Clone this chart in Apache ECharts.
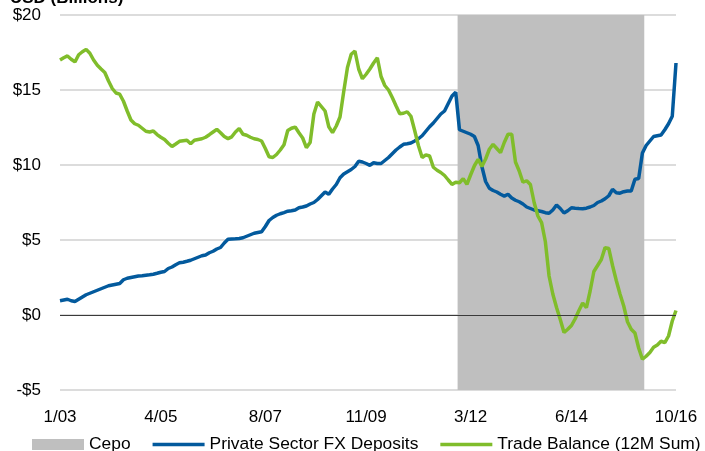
<!DOCTYPE html>
<html>
<head>
<meta charset="utf-8">
<script src="https://cdn.jsdelivr.net/npm/echarts@6/dist/echarts.min.js"></script>
<style>
html,body{margin:0;padding:0;background:#fff;}
#chart{width:705px;height:451px;}
</style>
</head>
<body>
<div id="chart"></div>
<script>
// Monthly categories 1/03 .. 10/16
const categories = [];
for (let y = 2003; y <= 2016; y++) {
  for (let m = 1; m <= 12; m++) {
    if (y === 2016 && m > 10) break;
    categories.push(m + '/' + String(y).slice(2));
  }
}
const tickLabels = ['1/03', '4/05', '8/07', '11/09', '3/12', '6/14', '10/16'];

const fxDeposits = [
  0.95, 1.0, 1.05, 0.95, 0.9, 1.05, 1.2, 1.35, 1.45, 1.55, 1.65, 1.75,
  1.85, 1.95, 2.0, 2.05, 2.1, 2.35, 2.45, 2.5, 2.55, 2.6, 2.62, 2.65,
  2.68, 2.72, 2.78, 2.85, 2.9, 3.1, 3.2, 3.35, 3.48, 3.52, 3.58, 3.65,
  3.75, 3.85, 3.95, 4.0, 4.15, 4.25, 4.4, 4.5, 4.8, 5.05, 5.07, 5.08,
  5.1, 5.15, 5.25, 5.35, 5.45, 5.5, 5.55, 5.9, 6.3, 6.5, 6.65, 6.75,
  6.83, 6.92, 6.95, 7.0, 7.15, 7.2, 7.27, 7.4, 7.5, 7.7, 7.95, 8.2,
  8.05, 8.4, 8.7, 9.15, 9.4, 9.55, 9.7, 9.9, 10.25, 10.2, 10.1, 9.98,
  10.15, 10.1, 10.1, 10.3, 10.5, 10.75, 11.0, 11.2, 11.38, 11.42, 11.47, 11.6,
  11.75, 11.95, 12.25, 12.55, 12.8, 13.1, 13.4, 13.6, 14.1, 14.6, 14.85, 12.35,
  12.25, 12.15, 12.05, 11.9, 11.3, 9.9, 8.9, 8.45, 8.3, 8.2, 8.05, 7.93,
  8.05, 7.8, 7.65, 7.55, 7.4, 7.2, 7.1, 7.0, 6.95, 6.9, 6.82, 6.78,
  7.0, 7.33, 7.1, 6.8, 6.95, 7.15, 7.12, 7.1, 7.09, 7.12, 7.2, 7.3,
  7.5, 7.6, 7.75, 7.95, 8.38, 8.15, 8.12, 8.22, 8.27, 8.27, 9.05, 9.1,
  10.8, 11.3, 11.6, 11.9, 11.95, 12.0, 12.35, 12.75, 13.25, 16.8
];

const tradeBalance = [
  17.0, 17.15, 17.27, 17.05, 16.87, 17.35, 17.55, 17.71, 17.45, 17.0, 16.65, 16.4,
  16.17, 15.6, 15.1, 14.8, 14.72, 14.25, 13.6, 13.0, 12.75, 12.65, 12.45, 12.25,
  12.2, 12.27, 12.03, 11.85, 11.7, 11.45, 11.23, 11.4, 11.58, 11.62, 11.65, 11.42,
  11.65, 11.7, 11.75, 11.85, 12.02, 12.2, 12.38, 12.15, 11.9, 11.76, 11.88, 12.2,
  12.43, 12.05, 11.98, 11.85, 11.75, 11.7, 11.6, 11.1, 10.55, 10.5, 10.7, 11.0,
  11.35, 12.3, 12.45, 12.53, 12.15, 11.8, 11.16, 11.5, 13.4, 14.2, 13.9, 13.6,
  12.55, 12.16, 12.6, 13.2, 14.9, 16.5, 17.38, 17.6, 16.4, 15.75, 16.05, 16.4,
  16.8, 17.15, 15.9, 15.3, 15.0, 14.5, 13.95, 13.42, 13.45, 13.55, 13.25, 12.3,
  11.3, 10.5, 10.68, 10.6, 9.85, 9.65, 9.5, 9.3, 9.0, 8.71, 8.85, 8.82,
  9.09, 8.71, 9.35, 9.95, 10.38, 9.9, 10.4, 11.05, 11.38, 11.1, 10.82, 11.5,
  12.05, 12.05, 10.2, 9.6, 8.85, 8.95, 8.7, 7.5, 6.6, 6.16, 4.9, 2.6,
  1.4, 0.5, -0.3, -1.17, -0.95, -0.7, -0.25, 0.3, 0.8, 0.49, 1.6, 2.9,
  3.3, 3.7, 4.49, 4.43, 3.3, 2.3, 1.4, 0.6, -0.45, -0.95, -1.2, -2.2,
  -2.95, -2.75, -2.5, -2.15, -2.0, -1.75, -1.84, -1.4, -0.4, 0.3
];

// Cepo period (first and last month shaded, each month a full-width column)
const cepoStart = '12/11';
const cepoEnd = '1/16';
const cepoTop = 20;

const iStart = categories.indexOf(cepoStart);
const iEnd = categories.indexOf(cepoEnd);
const cepoData = [[iStart - 0.5, cepoTop], [iEnd + 0.5, cepoTop]];

const FONT = "'Liberation Sans', Arial, sans-serif";
const BLUE = '#035a9d';
const GREEN = '#80bd2b';
const GRAY = '#bfbfbf';
const LINE_ICON = 'path://M0,0H52V3.5H0Z';

const chart = echarts.init(document.getElementById('chart'), null, { renderer: 'canvas' });
chart.setOption({
  animation: false,
  backgroundColor: '#fff',
  title: {
    text: 'USD (Billions)',
    left: 10,
    top: -10,
    padding: 0,
    textStyle: { fontFamily: FONT, fontSize: 17, fontWeight: 'bold', color: '#000' }
  },
  grid: { left: 60, right: 29, top: 15, bottom: 61, containLabel: false },
  legend: {
    left: 32,
    top: 436,
    padding: 0,
    itemWidth: 52,
    itemHeight: 11,
    itemGap: 22,
    symbolKeepAspect: true,
    textStyle: { fontFamily: FONT, fontSize: 17.4, color: '#000', padding: [0, 0, 0, 0] },
    data: [
      { name: 'Cepo', icon: 'rect', itemStyle: { color: GRAY } },
      { name: 'Private Sector FX Deposits', icon: LINE_ICON },
      { name: 'Trade Balance (12M Sum)', icon: LINE_ICON }
    ]
  },
  xAxis: [
    {
      type: 'category',
      data: categories,
      boundaryGap: false,
      axisLine: { show: false, onZero: false },
      axisTick: { show: false },
      splitLine: { show: false },
      axisLabel: {
        interval: (idx, val) => tickLabels.indexOf(val) >= 0,
        fontFamily: FONT,
        fontSize: 17,
        color: '#000',
        margin: 19
      }
    },
    {
      type: 'value',
      min: 0,
      max: categories.length - 1,
      show: false,
      axisLine: { onZero: false },
      splitLine: { show: false }
    }
  ],
  yAxis: {
    type: 'value',
    min: -5,
    max: 20,
    interval: 5,
    axisLine: { show: false },
    axisTick: { show: false },
    splitLine: { lineStyle: { color: '#d0d0d0', width: 1.5 } },
    axisLabel: {
      formatter: v => (v < 0 ? '-$' + Math.abs(v) : '$' + v),
      fontFamily: FONT,
      fontSize: 17,
      color: '#000',
      margin: 19
    }
  },
  series: [
    {
      name: 'Cepo',
      type: 'line',
      xAxisIndex: 1,
      data: cepoData,
      symbol: 'none',
      silent: true,
      lineStyle: { width: 0, color: GRAY },
      itemStyle: { color: GRAY },
      areaStyle: { color: GRAY, opacity: 1, origin: 'start' },
      markLine: {
        silent: true,
        symbol: 'none',
        label: { show: false },
        lineStyle: { color: '#3a3a3a', width: 1.2, type: 'solid' },
        data: [{ yAxis: 0 }]
      }
    },
    {
      name: 'Private Sector FX Deposits',
      type: 'line',
      data: fxDeposits,
      symbol: 'none',
      smooth: false,
      lineStyle: { color: BLUE, width: 3.5 },
      itemStyle: { color: BLUE }
    },
    {
      name: 'Trade Balance (12M Sum)',
      type: 'line',
      data: tradeBalance,
      symbol: 'none',
      smooth: false,
      lineStyle: { color: GREEN, width: 3.5 },
      itemStyle: { color: GREEN }
    }
  ]
});
</script>
</body>
</html>
